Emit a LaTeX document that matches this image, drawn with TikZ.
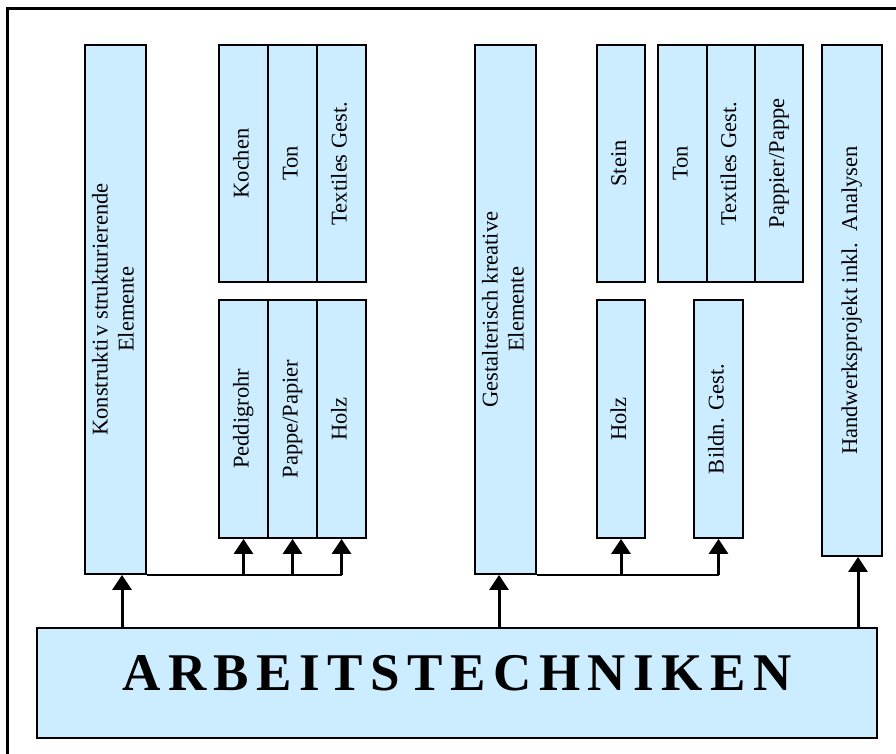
\documentclass[tikz,border=0pt]{standalone}
\usepackage{fontspec}
\setmainfont{Liberation Serif}
\usetikzlibrary{arrows.meta,calc}
\definecolor{boxblue}{RGB}{204,236,255}
\tikzset{
  box/.style={draw, line width=1.8pt, fill=boxblue, inner sep=0pt,
    font=\fontsize{22.5}{26}\selectfont},
  arr/.style={line width=3pt, -{Triangle[width=19pt,length=15pt]}},
  conn/.style={line width=2pt},
}
\newcommand{\vt}[1]{\rotatebox{90}{\begin{tabular}{@{}c@{}}#1\end{tabular}}}
\begin{document}
\begin{tikzpicture}[x=1pt,y=-1pt]
\useasboundingbox (0,0) rectangle (896,754);
\clip (0,0) rectangle (896,754);
\draw[line width=3pt] (7,9) rectangle (940,800);
% left group
\node[box, minimum width=61pt, minimum height=529pt] (k) at (115.5,309.5)
  {\vt{Konstrukti\kern3pt v strukturierende\\Elemente}};
\node[box, minimum width=49pt, minimum height=237pt] (kochen) at (243.5,163.5) {\vt{Kochen}};
\node[box, minimum width=49pt, minimum height=237pt] (tona) at (292.5,163.5) {\vt{Ton}};
\node[box, minimum width=49pt, minimum height=237pt] (texa) at (341.5,163.5) {\vt{Textiles Gest.}};
\node[box, minimum width=49pt, minimum height=238pt] (ped) at (243.5,419) {\vt{Peddigrohr}};
\node[box, minimum width=49pt, minimum height=238pt] (pap) at (292.5,419) {\vt{Pappe/Papier}};
\node[box, minimum width=49pt, minimum height=238pt] (holza) at (341.5,419) {\vt{Holz}};
% middle group
\node[box, minimum width=61pt, minimum height=529pt] (g) at (505.5,309.5)
  {\vt{Gestalterisch kreative\\Elemente}};
\node[box, minimum width=48pt, minimum height=237pt] (stein) at (621,163.5) {\vt{Stein}};
\node[box, minimum width=49pt, minimum height=237pt] (tonb) at (682.5,163.5) {\vt{Ton}};
\node[box, minimum width=48pt, minimum height=237pt] (texb) at (731,163.5) {\vt{Textiles Gest.}};
\node[box, minimum width=48pt, minimum height=237pt] (papb) at (779,163.5) {\vt{Pappier/Pappe}};
\node[box, minimum width=48pt, minimum height=238pt] (holzb) at (621,419) {\vt{Holz}};
\node[box, minimum width=49pt, minimum height=238pt] (bild) at (718.5,419) {\vt{Bildn. Gest.}};
% right
\node[box, minimum width=60pt, minimum height=511pt] (h) at (852,300.5)
  {\vt{Handwerksprojekt inkl.\ \ Analysen}};
% bottom
\node[box, minimum width=840pt, minimum height=110pt, text depth=20pt,
  font=\fontsize{53}{60}\selectfont\bfseries] (arb) at (457,683)
  {A\hskip7.5pt R\hskip7.5pt B\hskip7.5pt E\hskip7.5pt I\hskip7.5pt T\hskip7.5pt S\hskip7.5pt T\hskip7.5pt E\hskip7.5pt C\hskip7.5pt H\hskip7.5pt N\hskip7.5pt I\hskip7.5pt K\hskip7.5pt E\hskip7.5pt N};
% connectors left
\draw[arr] ([xshift=6.5pt]k.south |- arb.north) -- ([xshift=6.5pt]k.south);
\draw[conn] (k.south east) -- (holza.south |- k.south east);
\draw[arr] (ped.south |- k.south) -- (ped.south);
\draw[arr] (pap.south |- k.south) -- (pap.south);
\draw[arr] (holza.south |- k.south) -- (holza.south);
% connectors middle
\draw[arr] ([xshift=-6.5pt]g.south |- arb.north) -- ([xshift=-6.5pt]g.south);
\draw[conn] (g.south east) -- (bild.south |- g.south east);
\draw[arr] (holzb.south |- g.south) -- (holzb.south);
\draw[arr] (bild.south |- g.south) -- (bild.south);
% right
\draw[arr] ([xshift=6pt]h.south |- arb.north) -- ([xshift=6pt]h.south);
\end{tikzpicture}
\end{document}
